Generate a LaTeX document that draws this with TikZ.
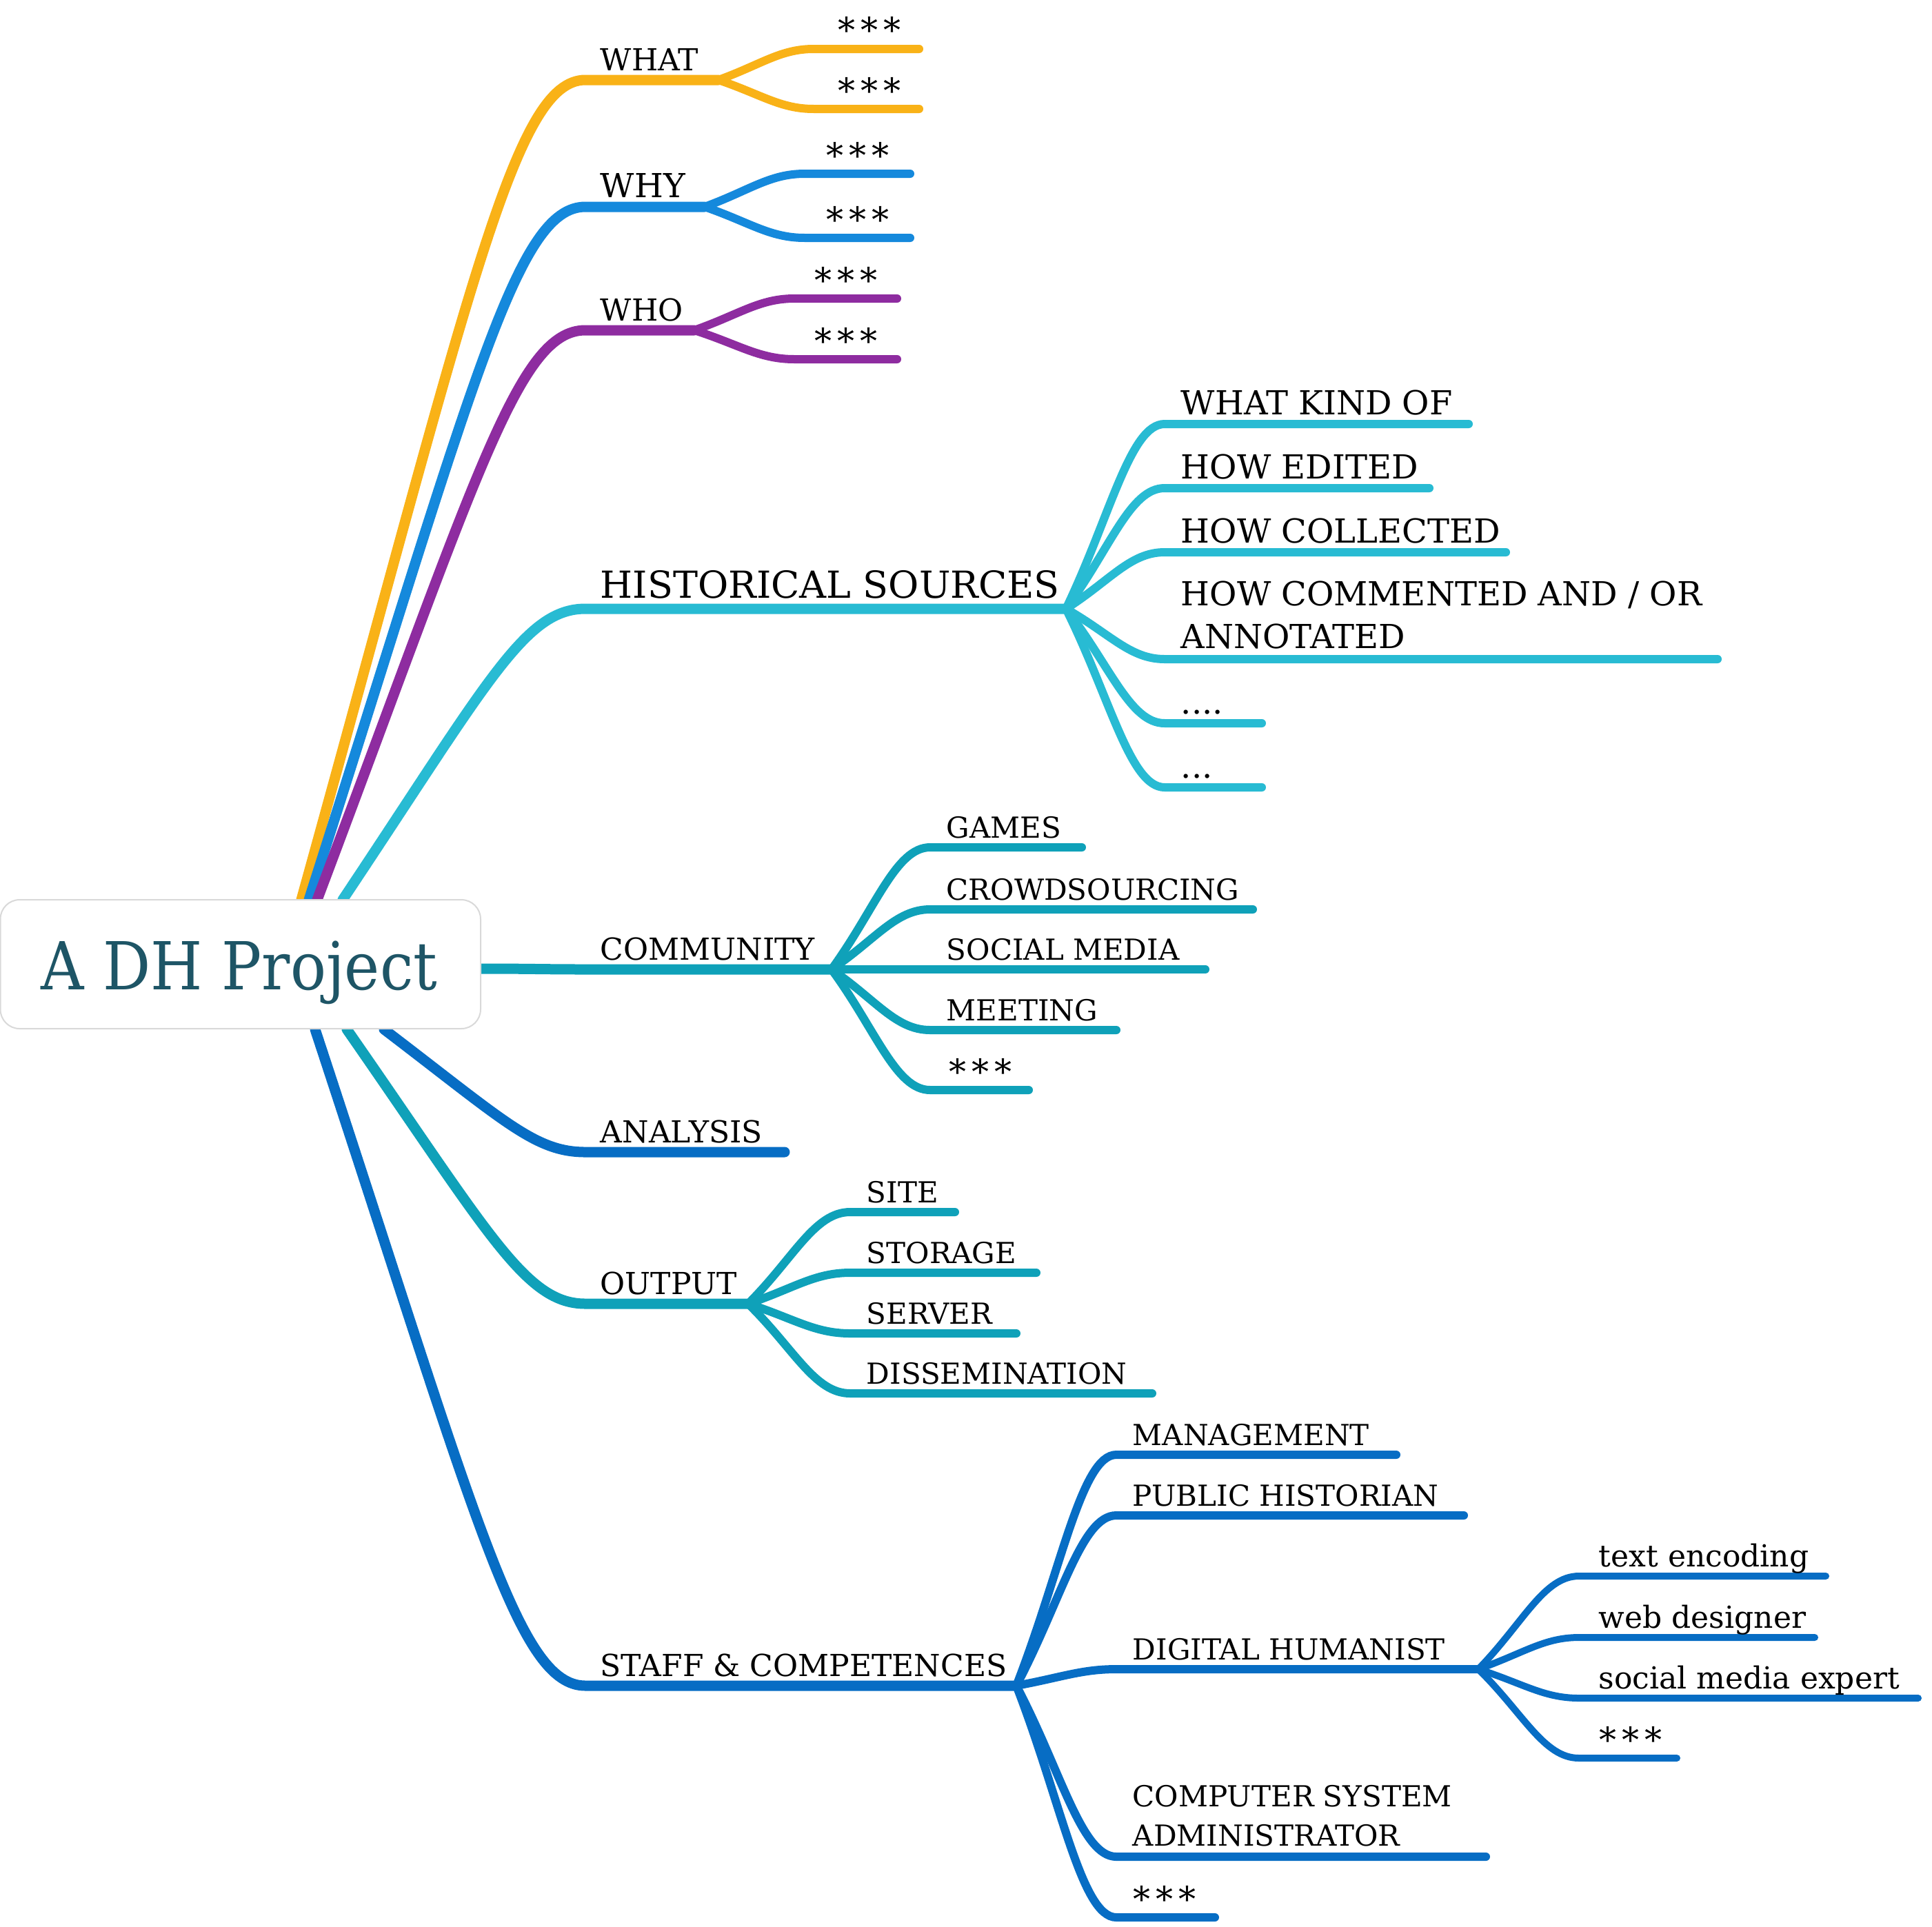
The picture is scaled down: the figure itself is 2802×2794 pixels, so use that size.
\documentclass[tikz,border=0pt]{standalone}
\usepackage{fontspec}
\setmainfont{DejaVu Serif}
\newfontfamily\rootface[FakeStretch=0.9]{DejaVu Serif}
\usetikzlibrary{calc}
\definecolor{cOrange}{HTML}{F9B217}
\definecolor{cWhy}{HTML}{1589DC}
\definecolor{cPurple}{HTML}{8E2CA0}
\definecolor{cCyan}{HTML}{28BBD3}
\definecolor{cTeal}{HTML}{0FA1B9}
\definecolor{cDblue}{HTML}{076DC4}
\definecolor{cRoot}{HTML}{1E5566}
\newcommand\trunk[4]{\draw[#1] let \p1=(#2), \p2=(#3) in (\p1) .. controls ({\x1+0.6*(\x2-\x1)},{\y1+0.75*(\y2-\y1)}) and ({\x1+0.75*(\x2-\x1)},{\y2}) .. (\p2) -- (#4);}
\newcommand\twig[4]{\draw[#1] let \p1=(#2), \p2=(#3) in (\p1) .. controls ({\x1+0.45*(\x2-\x1)},{\y1+0.5*(\y2-\y1)}) and ({\x1+0.65*(\x2-\x1)},{\y2}) .. (\p2) -- (#4);}
\newcommand\strs{*\hspace{2pt}*\hspace{2pt}*}
\begin{document}
\begin{tikzpicture}[x=0.25pt,y=-0.25pt,
  trk/.style={line width=3.75pt, line cap=round},
  twg/.style={line width=3pt, line cap=round},
  lf/.style={line width=2.5pt, line cap=round},
  labA/.style={anchor=base west, inner sep=0pt, font=\fontsize{11}{14}\selectfont},
  labB/.style={anchor=base west, inner sep=0pt, font=\fontsize{10.5}{14}\selectfont},
  labH/.style={anchor=base west, inner sep=0pt, font=\fontsize{12}{15.5}\selectfont},
  labD/.style={anchor=base west, inner sep=0pt, font=\fontsize{11}{14}\selectfont},
  stars/.style={anchor=base west, inner sep=0pt, font=\fontsize{12.5}{16}\selectfont},
  rootframe/.style={draw=black!15, line width=0.5pt, fill=white, rounded corners=7pt},
  rootlbl/.style={anchor=base, inner sep=0pt, text=cRoot, font=\rootface\fontsize{24}{28}\selectfont}]
\useasboundingbox (0,0) rectangle (2802,2794);

% root attachment points
\coordinate (r1) at (437,1305);
\coordinate (r2) at (448,1305);
\coordinate (r3) at (460,1305);
\coordinate (r4) at (497,1305);
\coordinate (r5) at (697,1405);
\coordinate (r6) at (557,1493);
\coordinate (r7) at (503,1493);
\coordinate (r8) at (457,1493);

% level 1
\coordinate (whatS) at (849,116);  \coordinate (whatF) at (1042,116);
\coordinate (whyS) at (849,300);   \coordinate (whyF) at (1022,300);
\coordinate (whoS) at (849,479);   \coordinate (whoF) at (1007,479);
\coordinate (histS) at (849,883);  \coordinate (histF) at (1546,883);
\coordinate (commS) at (849,1406); \coordinate (commF) at (1206,1406);
\coordinate (anaS) at (849,1671);  \coordinate (anaE) at (1138,1671);
\coordinate (outS) at (849,1891);  \coordinate (outF) at (1085,1891);
\coordinate (stafS) at (849,2445); \coordinate (stafF) at (1474,2445);

% WHAT / WHY / WHO kids
\coordinate (wa1S) at (1180,71);  \coordinate (wa1E) at (1333,71);
\coordinate (wa2S) at (1180,158); \coordinate (wa2E) at (1333,158);
\coordinate (wy1S) at (1167,252); \coordinate (wy1E) at (1320,252);
\coordinate (wy2S) at (1167,345); \coordinate (wy2E) at (1320,345);
\coordinate (wo1S) at (1152,433); \coordinate (wo1E) at (1301,433);
\coordinate (wo2S) at (1152,521); \coordinate (wo2E) at (1301,521);

% HISTORICAL SOURCES kids
\coordinate (h1S) at (1689,615);  \coordinate (h1E) at (2130,615);
\coordinate (h2S) at (1689,708);  \coordinate (h2E) at (2073,708);
\coordinate (h3S) at (1689,801);  \coordinate (h3E) at (2184,801);
\coordinate (h4S) at (1689,956);  \coordinate (h4E) at (2491,956);
\coordinate (h5S) at (1689,1049); \coordinate (h5E) at (1830,1049);
\coordinate (h6S) at (1689,1142); \coordinate (h6E) at (1830,1142);

% COMMUNITY kids
\coordinate (c1S) at (1349,1229); \coordinate (c1E) at (1569,1229);
\coordinate (c2S) at (1349,1319); \coordinate (c2E) at (1817,1319);
\coordinate (c3S) at (1349,1406); \coordinate (c3E) at (1748,1406);
\coordinate (c4S) at (1349,1494); \coordinate (c4E) at (1619,1494);
\coordinate (c5S) at (1349,1581); \coordinate (c5E) at (1492,1581);

% OUTPUT kids
\coordinate (o1S) at (1233,1758); \coordinate (o1E) at (1385,1758);
\coordinate (o2S) at (1233,1846); \coordinate (o2E) at (1503,1846);
\coordinate (o3S) at (1233,1934); \coordinate (o3E) at (1474,1934);
\coordinate (o4S) at (1233,2021); \coordinate (o4E) at (1671,2021);

% STAFF kids
\coordinate (s1S) at (1619,2110); \coordinate (s1E) at (2025,2110);
\coordinate (s2S) at (1619,2198); \coordinate (s2E) at (2123,2198);
\coordinate (s3S) at (1619,2421); \coordinate (s3F) at (2144,2421);
\coordinate (s4S) at (1619,2693); \coordinate (s4E) at (2155,2693);
\coordinate (s5S) at (1619,2781); \coordinate (s5E) at (1762,2781);

% DIGITAL HUMANIST kids
\coordinate (d1S) at (2290,2286); \coordinate (d1E) at (2648,2286);
\coordinate (d2S) at (2290,2375); \coordinate (d2E) at (2632,2375);
\coordinate (d3S) at (2290,2463); \coordinate (d3E) at (2782,2463);
\coordinate (d4S) at (2290,2550); \coordinate (d4E) at (2432,2550);

% ---- trunks from root ----
\trunk{trk,cOrange}{r1}{whatS}{whatF}
\trunk{trk,cWhy}{r2}{whyS}{whyF}
\trunk{trk,cPurple}{r3}{whoS}{whoF}
\trunk{trk,cCyan}{r4}{histS}{histF}
\draw[trk,cTeal] (r5) .. controls (770,1405) and (790,1406) .. (commS) -- (commF);
\trunk{trk,cDblue}{r6}{anaS}{anaE}
\trunk{trk,cTeal}{r7}{outS}{outF}
\trunk{trk,cDblue}{r8}{stafS}{stafF}

% ---- twigs ----
\twig{twg,cOrange}{whatF}{wa1S}{wa1E}
\twig{twg,cOrange}{whatF}{wa2S}{wa2E}
\twig{twg,cWhy}{whyF}{wy1S}{wy1E}
\twig{twg,cWhy}{whyF}{wy2S}{wy2E}
\twig{twg,cPurple}{whoF}{wo1S}{wo1E}
\twig{twg,cPurple}{whoF}{wo2S}{wo2E}

\twig{twg,cCyan}{histF}{h1S}{h1E}
\twig{twg,cCyan}{histF}{h2S}{h2E}
\twig{twg,cCyan}{histF}{h3S}{h3E}
\twig{twg,cCyan}{histF}{h4S}{h4E}
\twig{twg,cCyan}{histF}{h5S}{h5E}
\twig{twg,cCyan}{histF}{h6S}{h6E}

\twig{twg,cTeal}{commF}{c1S}{c1E}
\twig{twg,cTeal}{commF}{c2S}{c2E}
\twig{twg,cTeal}{commF}{c3S}{c3E}
\twig{twg,cTeal}{commF}{c4S}{c4E}
\twig{twg,cTeal}{commF}{c5S}{c5E}

\twig{twg,cTeal}{outF}{o1S}{o1E}
\twig{twg,cTeal}{outF}{o2S}{o2E}
\twig{twg,cTeal}{outF}{o3S}{o3E}
\twig{twg,cTeal}{outF}{o4S}{o4E}

\twig{twg,cDblue}{stafF}{s1S}{s1E}
\twig{twg,cDblue}{stafF}{s2S}{s2E}
\twig{twg,cDblue}{stafF}{s3S}{s3F}
\twig{twg,cDblue}{stafF}{s4S}{s4E}
\twig{twg,cDblue}{stafF}{s5S}{s5E}

\twig{lf,cDblue}{s3F}{d1S}{d1E}
\twig{lf,cDblue}{s3F}{d2S}{d2E}
\twig{lf,cDblue}{s3F}{d3S}{d3E}
\twig{lf,cDblue}{s3F}{d4S}{d4E}

% ---- root ----
\draw[rootframe] (0.5,1305) rectangle (697,1492);
\node[rootlbl] (root) at (347,1435) {A DH Project};

% ---- labels level 1 ----
\node[labA] (lWhat) at (870,102) {WHAT};
\node[labA, font=\fontsize{12}{14}\selectfont] (lWhy) at (870,286) {WHY};
\node[labA] (lWho) at (870,465) {WHO};
\node[labA, font=\fontsize{13.5}{16}\selectfont] (lHist) at (870,867) {HISTORICAL SOURCES};
\node[labA] (lComm) at (870,1392) {COMMUNITY};
\node[labA] (lAna) at (870,1657) {ANALYSIS};
\node[labA] (lOut) at (870,1877) {OUTPUT};
\node[labA] (lStaf) at (870,2431) {STAFF \& COMPETENCES};

% stars
\node[stars] (wa1L) at (1215,62) {\strs};
\node[stars] (wa2L) at (1215,149) {\strs};
\node[stars] (wy1L) at (1198,243) {\strs};
\node[stars] (wy2L) at (1198,336) {\strs};
\node[stars] (wo1L) at (1181,424) {\strs};
\node[stars] (wo2L) at (1181,512) {\strs};

% HIST kids
\node[labH] (h1L) at (1712,601) {WHAT KIND OF};
\node[labH] (h2L) at (1712,694) {HOW EDITED};
\node[labH] (h3L) at (1712,787) {HOW COLLECTED};
\node[labH, anchor=south west, align=left] (h4L) at (1712,942) {HOW COMMENTED AND / OR\\ANNOTATED};
\node[labH] (h5L) at (1712,1035) {....};
\node[labH] (h6L) at (1712,1128) {...};

% COMMUNITY kids
\node[labB] (c1L) at (1372,1215) {GAMES};
\node[labB] (c2L) at (1372,1305) {CROWDSOURCING};
\node[labB] (c3L) at (1372,1392) {SOCIAL MEDIA};
\node[labB] (c4L) at (1372,1480) {MEETING};
\node[stars] (c5L) at (1376,1572) {\strs};

% OUTPUT kids
\node[labB] (o1L) at (1256,1744) {SITE};
\node[labB] (o2L) at (1256,1832) {STORAGE};
\node[labB] (o3L) at (1256,1920) {SERVER};
\node[labB] (o4L) at (1256,2007) {DISSEMINATION};

% STAFF kids
\node[labB] (s1L) at (1642,2096) {MANAGEMENT};
\node[labB] (s2L) at (1642,2184) {PUBLIC HISTORIAN};
\node[labB] (s3L) at (1642,2407) {DIGITAL HUMANIST};
\node[labB, anchor=south west, align=left, font=\fontsize{10.5}{14.2}\selectfont] (s4L) at (1642,2679) {COMPUTER SYSTEM\\ADMINISTRATOR};
\node[stars] (s5L) at (1643,2772) {\strs};

% DH kids
\node[labD] (d1L) at (2318,2272) {text encoding};
\node[labD] (d2L) at (2318,2361) {web designer};
\node[labD] (d3L) at (2318,2449) {social media expert};
\node[stars] (d4L) at (2319,2541) {\strs};
\end{tikzpicture}
\end{document}
